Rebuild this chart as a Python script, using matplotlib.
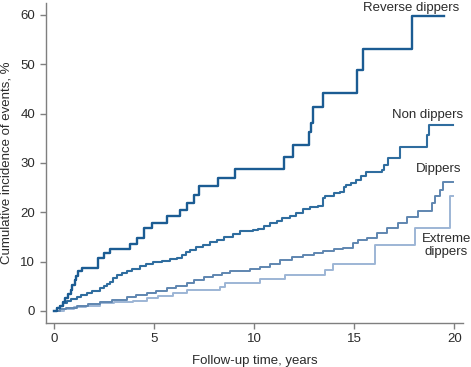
import matplotlib
matplotlib.use("Agg")
import matplotlib.pyplot as plt

plt.rcParams['font.family'] = ['Liberation Sans', 'DejaVu Sans']

# Reverse dippers
rev_t = [0, 0.12, 0.29, 0.42, 0.54, 0.7, 0.84, 0.9, 1.04, 1.09, 1.2, 1.37, 2.2, 2.5, 2.79,
         3.79, 4.15, 4.49, 4.9, 5.62, 6.29, 6.65, 6.99, 7.24, 8.2, 9.04, 11.49, 11.95,
         12.75, 12.85, 12.92, 13.42, 15.15, 15.45, 17.89, 19.5]
rev_v = [0, 0.6, 1.0, 1.8, 2.6, 3.4, 4.3, 5.3, 6.3, 7.1, 8.0, 8.8, 10.8, 11.7, 12.5,
         13.6, 14.8, 16.8, 17.9, 19.2, 20.4, 21.9, 23.5, 25.3, 26.9, 28.8, 31.1, 33.6,
         36.2, 38.1, 41.3, 44.1, 48.9, 53.1, 59.7, 59.7]

# Non dippers
non_t = [0, 0.15, 0.3, 0.45, 0.62, 0.85, 1.12, 1.35, 1.62, 1.9, 2.29, 2.5, 2.65, 2.79, 2.95,
         3.12, 3.4, 3.62, 3.9, 4.29, 4.6, 4.95, 5.4, 5.8, 6.12, 6.4, 6.6, 6.79, 7.1, 7.45,
         7.8, 8.12, 8.5, 8.95, 9.29, 9.6, 9.95, 10.2, 10.5, 10.8, 11.12, 11.4, 11.8, 12.1,
         12.45, 12.8, 13.2, 13.45, 13.55, 14.0, 14.3, 14.5, 14.6, 14.85, 15.1, 15.35, 15.6,
         16.37, 16.5, 16.7, 17.29, 18.62, 18.75, 19.95]
non_v = [0, 0.5, 1.0, 1.6, 2.1, 2.4, 2.8, 3.2, 3.6, 4.0, 4.6, 5.0, 5.5, 5.9, 6.6,
         7.3, 7.7, 8.0, 8.4, 9.1, 9.5, 10.0, 10.2, 10.5, 10.7, 11.3, 11.9, 12.4, 12.9, 13.4,
         13.9, 14.4, 15.0, 15.6, 16.1, 16.2, 16.4, 16.6, 17.3, 17.8, 18.3, 18.8, 19.2, 19.8,
         20.6, 21.0, 21.3, 22.9, 23.3, 23.8, 24.0, 25.1, 25.6, 26.0, 26.6, 27.4, 28.2,
         28.6, 29.6, 31.0, 33.3, 35.7, 37.7, 37.7]

# Dippers
dip_t = [0, 0.3, 0.6, 1.12, 1.7, 2.29, 2.9, 3.62, 4.1, 4.62, 5.1, 5.62, 6.1, 6.62, 7.0,
         7.5, 7.95, 8.4, 8.79, 9.79, 10.3, 10.8, 11.29, 11.9, 12.45, 13.0, 13.45, 14.0,
         14.45, 14.95, 15.2, 15.62, 16.12, 16.62, 17.2, 17.62, 18.2, 18.87, 19.04, 19.29,
         19.45, 19.95]
dip_v = [0, 0.3, 0.6, 1.0, 1.4, 1.9, 2.3, 2.8, 3.2, 3.6, 4.0, 4.6, 5.1, 5.7, 6.3,
         6.8, 7.3, 7.7, 8.1, 8.5, 9.0, 9.6, 10.3, 10.9, 11.4, 11.8, 12.2, 12.5,
         12.7, 13.7, 14.4, 14.7, 15.8, 16.8, 17.9, 19.1, 20.3, 21.8, 23.2, 24.5,
         26.2, 26.2]

# Extreme dippers
ext_t = [0, 0.5, 1.0, 1.6, 2.29, 3.0, 3.95, 4.62, 5.2, 5.95, 6.62, 8.29, 8.54, 10.29,
         11.54, 13.54, 13.95, 16.04, 18.04, 19.79, 19.95]
ext_v = [0, 0.4, 0.8, 1.1, 1.55, 1.8, 2.1, 2.6, 3.0, 3.6, 4.3, 4.9, 5.6, 6.4,
         7.3, 8.3, 9.5, 13.4, 16.9, 23.2, 23.2]

x_ticks = [0, 5, 10, 15, 20]
y_ticks = [0, 10, 20, 30, 40, 50, 60]

fig = plt.figure(figsize=(4.71, 3.67), dpi=100)
ax = fig.add_axes([0.097, 0.12, 0.886, 0.872])

ax.step(ext_t, ext_v, where='post', color='#9db5d5', lw=1.4)
ax.step(dip_t, dip_v, where='post', color='#5f86b0', lw=1.4)
ax.step(non_t, non_v, where='post', color='#2f6d9f', lw=1.5)
ax.step(rev_t, rev_v, where='post', color='#1b5c93', lw=1.7)

ax.set_xlim(-0.43, 20.44)
ax.set_ylim(-2.43, 62.4)
ax.set_xticks(x_ticks)
ax.set_yticks(y_ticks)

for s in ['top', 'right']:
    ax.spines[s].set_visible(False)
for s in ['left', 'bottom']:
    ax.spines[s].set_color('#7f7f7f')
    ax.spines[s].set_linewidth(1.0)
ax.tick_params(axis='both', direction='out', length=4.5, width=1.0, color='#7f7f7f',
               labelsize=9.5, labelcolor='#2b2b2b', pad=3)

ax.set_xlabel('Follow-up time, years', fontsize=9.5, color='#2b2b2b', labelpad=7)
ax.set_ylabel('Cumulative incidence of events, %', fontsize=9.5, color='#2b2b2b', labelpad=6)

tk = dict(fontsize=9.5, color='#2b2b2b')
ax.text(20.25, 61.4, 'Reverse dippers', ha='right', va='center', **tk)
ax.text(20.45, 39.7, 'Non dippers', ha='right', va='center', **tk)
ax.text(20.35, 28.8, 'Dippers', ha='right', va='center', **tk)
ax.text(19.6, 13.2, 'Extreme\ndippers', ha='center', va='center', linespacing=1.15, **tk)

fig.savefig('out.png', dpi=100)
